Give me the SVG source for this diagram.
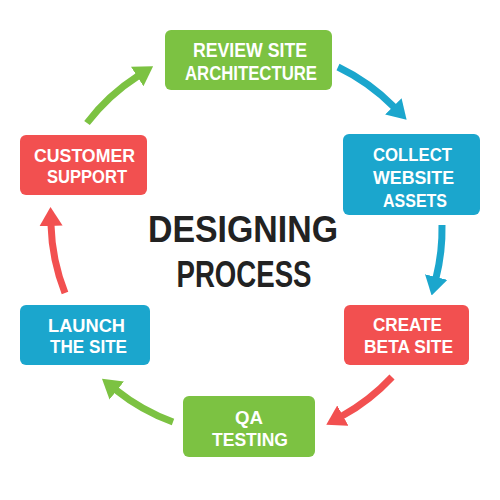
<svg xmlns="http://www.w3.org/2000/svg" width="500" height="500" viewBox="0 0 500 500">
<defs>
<style>
.box{rx:6;ry:6}
.g{fill:#7cc242}
.b{fill:#1ba6cd}
.r{fill:#f25050}
.lbl{font-family:"Liberation Sans",Arial,sans-serif;font-weight:700;font-size:19px;fill:#fff;text-anchor:middle}
.title{font-family:"Liberation Sans",Arial,sans-serif;font-weight:700;font-size:37px;fill:#222;text-anchor:middle}
.arr{fill:none;stroke-width:7}
</style>
<marker id="mg" viewBox="0 0 10 10" preserveAspectRatio="none" refX="0.5" refY="5" markerWidth="2.7" markerHeight="3.3" markerUnits="strokeWidth" orient="auto"><path d="M0,0 L10,5 L0,10 z" fill="#7cc242"/></marker>
<marker id="mb" viewBox="0 0 10 10" preserveAspectRatio="none" refX="0.5" refY="5" markerWidth="2.7" markerHeight="3.3" markerUnits="strokeWidth" orient="auto"><path d="M0,0 L10,5 L0,10 z" fill="#1ba6cd"/></marker>
<marker id="mr" viewBox="0 0 10 10" preserveAspectRatio="none" refX="0.5" refY="5" markerWidth="2.7" markerHeight="3.3" markerUnits="strokeWidth" orient="auto"><path d="M0,0 L10,5 L0,10 z" fill="#f25050"/></marker>
</defs>
<rect width="500" height="500" fill="#fff"/>
<g id="connectors">
<path class="arr" stroke="#7cc242" marker-end="url(#mg)" d="M87,123 A200,200 0 0 1 138,76"/>
<path class="arr" stroke="#1ba6cd" marker-end="url(#mb)" d="M338,67 A200,200 0 0 1 394,107"/>
<path class="arr" stroke="#1ba6cd" marker-end="url(#mb)" d="M442,225 A200,200 0 0 1 436,278"/>
<path class="arr" stroke="#f25050" marker-end="url(#mr)" d="M392,377 A200,200 0 0 1 342,416"/>
<path class="arr" stroke="#7cc242" marker-end="url(#mg)" d="M173,422 A200,200 0 0 1 116,390"/>
<path class="arr" stroke="#f25050" marker-end="url(#mr)" d="M65,293 A200,200 0 0 1 51,225"/>
</g>
<g id="title">
<text class="title" x="243" y="242" textLength="190" lengthAdjust="spacingAndGlyphs">DESIGNING</text>
<text class="title" x="244" y="287" textLength="135" lengthAdjust="spacingAndGlyphs">PROCESS</text>
</g>
<g id="review">
<rect class="box g" x="165" y="30" width="167" height="60"/>
<text class="lbl" x="250" y="57" style="font-size:20px" textLength="114" lengthAdjust="spacingAndGlyphs">REVIEW SITE</text>
<text class="lbl" x="251" y="80" style="font-size:20px" textLength="132" lengthAdjust="spacingAndGlyphs">ARCHITECTURE</text>
</g>
<g id="collect">
<rect class="box b" x="343" y="134" width="137" height="81"/>
<text class="lbl" x="412.5" y="161" textLength="79" lengthAdjust="spacingAndGlyphs">COLLECT</text>
<text class="lbl" x="413.5" y="184" textLength="81" lengthAdjust="spacingAndGlyphs">WEBSITE</text>
<text class="lbl" x="415" y="207" textLength="64" lengthAdjust="spacingAndGlyphs">ASSETS</text>
</g>
<g id="create">
<rect class="box r" x="344" y="305" width="125" height="60"/>
<text class="lbl" x="407.5" y="331" textLength="69" lengthAdjust="spacingAndGlyphs">CREATE</text>
<text class="lbl" x="408.5" y="353" textLength="89" lengthAdjust="spacingAndGlyphs">BETA SITE</text>
</g>
<g id="qa">
<rect class="box g" x="183" y="396" width="132" height="61"/>
<text class="lbl" x="249" y="424" textLength="28" lengthAdjust="spacingAndGlyphs">QA</text>
<text class="lbl" x="250" y="446" textLength="76" lengthAdjust="spacingAndGlyphs">TESTING</text>
</g>
<g id="launch">
<rect class="box b" x="20" y="305" width="130" height="60"/>
<text class="lbl" x="86.5" y="332" textLength="77" lengthAdjust="spacingAndGlyphs">LAUNCH</text>
<text class="lbl" x="88.5" y="353" textLength="77" lengthAdjust="spacingAndGlyphs">THE SITE</text>
</g>
<g id="customer">
<rect class="box r" x="20" y="135" width="127" height="60"/>
<text class="lbl" x="84.5" y="161.5" textLength="101" lengthAdjust="spacingAndGlyphs">CUSTOMER</text>
<text class="lbl" x="87" y="182.5" textLength="80" lengthAdjust="spacingAndGlyphs">SUPPORT</text>
</g>
</svg>
